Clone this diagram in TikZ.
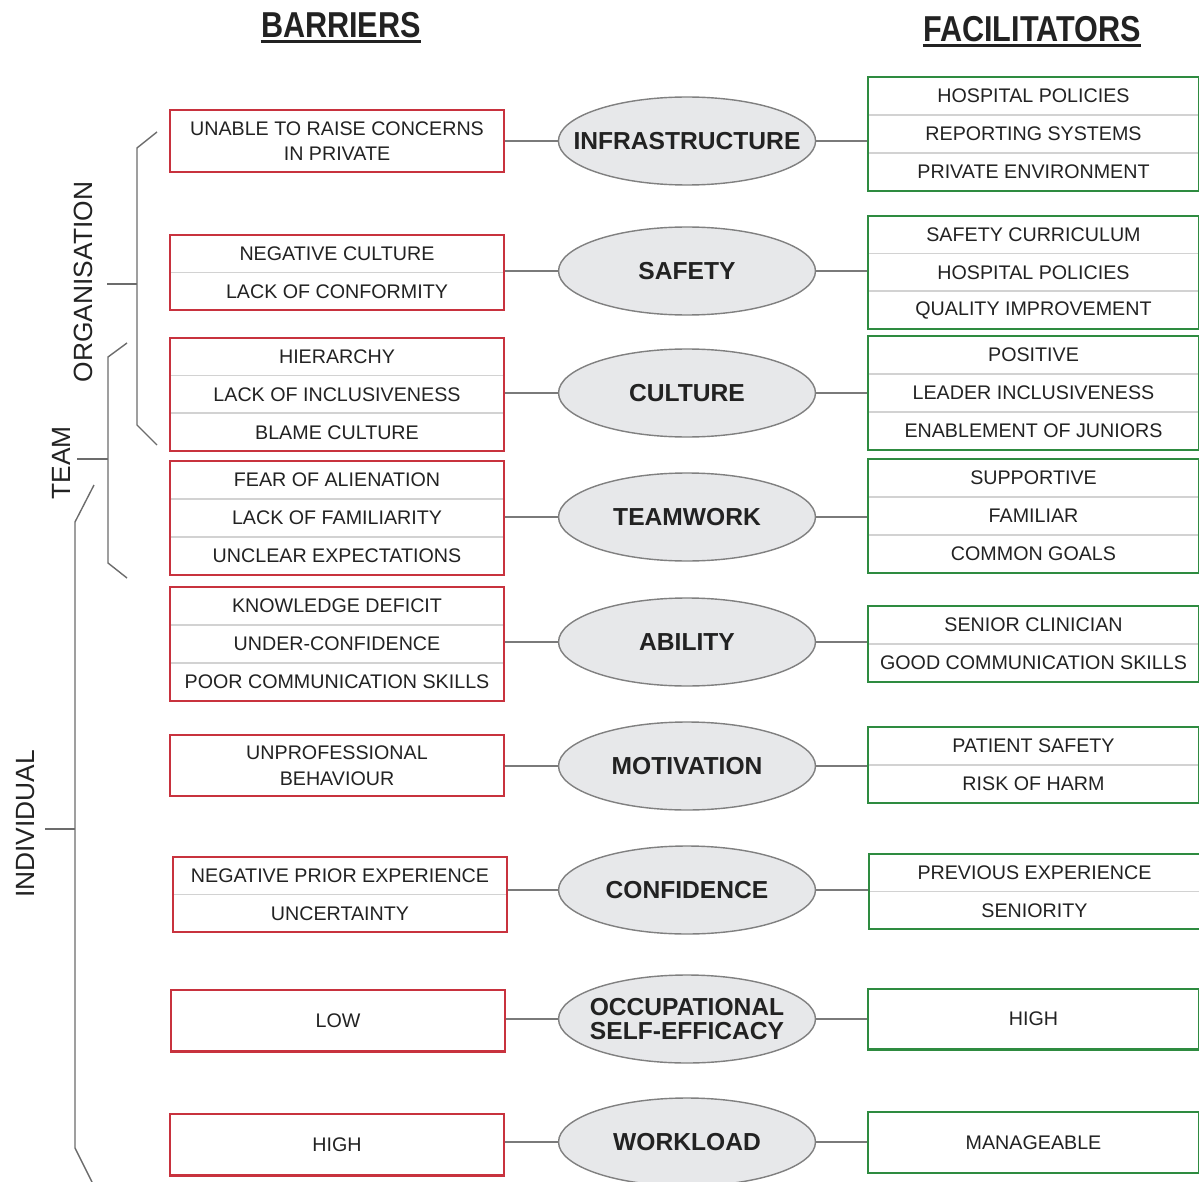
\documentclass[tikz,border=0pt]{standalone}
\usepackage{fontspec}
\setmainfont{Liberation Sans}
\newfontfamily\headfont[FakeStretch=0.85]{Liberation Sans Bold}
\usetikzlibrary{positioning,fit,shapes.geometric}
\definecolor{barred}{HTML}{C8323E}
\definecolor{facgreen}{HTML}{2E8B40}
\definecolor{rowline}{HTML}{D2D2D2}
\definecolor{ovalfill}{HTML}{E7E8EA}
\definecolor{linkgray}{HTML}{7A7A7A}
\definecolor{inktext}{HTML}{222222}
\tikzset{
  brow/.style={draw=rowline, line width=0.5pt, minimum width=6.68cm, minimum height=0.74cm,
    inner sep=0pt, align=center, text=inktext, font=\fontsize{11.2}{14.5}\selectfont},
  frow/.style={brow, minimum width=6.62cm},
  barrier/.style={draw=barred, line width=1.2pt, inner sep=0pt},
  facil/.style={draw=facgreen, line width=1.2pt, inner sep=0pt},
  factor/.style={ellipse, draw=gray, fill=ovalfill, line width=0.8pt, minimum width=5.14cm,
    minimum height=1.76cm, inner xsep=-0.45cm, inner ysep=0pt, align=center, text=inktext,
    font=\fontsize{14}{13.8}\selectfont\bfseries},
  link/.style={draw=linkgray, line width=0.9pt},
  bracket/.style={draw=gray!85!black, line width=0.8pt},
  level/.style={rotate=90, inner sep=0pt, text=inktext, font=\fontsize{15}{18}\selectfont},
  heading/.style={inner sep=0pt, text=inktext, font=\headfont\fontsize{20.5}{24}\selectfont}
}
\begin{document}
\begin{tikzpicture}[x=0.02cm, y=-0.02cm]
    \useasboundingbox (0,0) rectangle (1199,1182);
    % headings
    \node[heading] (hbar) at (341,25) {BARRIERS};
    \node[heading] (hfac) at (1032,29) {FACILITATORS};
    \draw[line width=1.8pt, inktext] ([yshift=-2.5pt]hbar.base west) -- ([yshift=-2.5pt]hbar.base east);
    \draw[line width=1.8pt, inktext] ([yshift=-2.5pt]hfac.base west) -- ([yshift=-2.5pt]hfac.base east);
    % factors
    \node[factor] (f1) at (687,141) {INFRASTRUCTURE};
    \node[factor] (f2) at (687,271) {SAFETY};
    \node[factor] (f3) at (687,393) {CULTURE};
    \node[factor] (f4) at (687,517) {TEAMWORK};
    \node[factor] (f5) at (687,642) {ABILITY};
    \node[factor] (f6) at (687,766) {MOTIVATION};
    \node[factor] (f7) at (687,890) {CONFIDENCE};
    \node[factor] (f8) at (687,1019) {OCCUPATIONAL\\SELF-EFFICACY};
    \node[factor] (f9) at (687,1142) {WORKLOAD};
    % barriers
    \node[brow, minimum height=1.22cm] (b11) at (337,141) {UNABLE TO RAISE CONCERNS\\IN PRIVATE};
    \node[barrier, fit=(b11)] (b1) {};
    \node[brow] (b21) at (337,253.5) {NEGATIVE CULTURE};
    \node[brow, below=0pt of b21] (b22) {LACK OF CONFORMITY};
    \node[barrier, fit=(b21)(b22)] (b2) {};
    \node[brow] (b31) at (337,356.5) {HIERARCHY};
    \node[brow, below=0pt of b31] (b32) {LACK OF INCLUSIVENESS};
    \node[brow, below=0pt of b32] (b33) {BLAME CULTURE};
    \node[barrier, fit=(b31)(b33)] (b3) {};
    \node[brow] (b41) at (337,480) {FEAR OF ALIENATION};
    \node[brow, below=0pt of b41] (b42) {LACK OF FAMILIARITY};
    \node[brow, below=0pt of b42] (b43) {UNCLEAR EXPECTATIONS};
    \node[barrier, fit=(b41)(b43)] (b4) {};
    \node[brow] (b51) at (337,606) {KNOWLEDGE DEFICIT};
    \node[brow, below=0pt of b51] (b52) {UNDER-CONFIDENCE};
    \node[brow, below=0pt of b52] (b53) {POOR COMMUNICATION SKILLS};
    \node[barrier, fit=(b51)(b53)] (b5) {};
    \node[brow, minimum height=1.22cm] (b61) at (337,765.5) {UNPROFESSIONAL\\BEHAVIOUR};
    \node[barrier, fit=(b61)] (b6) {};
    \node[brow] (b71) at (340,875.5) {NEGATIVE PRIOR EXPERIENCE};
    \node[brow, below=0pt of b71] (b72) {UNCERTAINTY};
    \node[barrier, fit=(b71)(b72)] (b7) {};
    \node[brow, minimum height=1.22cm] (b81) at (338,1020.5) {LOW};
    \node[barrier, fit=(b81)] (b8) {};
    \node[brow, minimum height=1.22cm] (b91) at (337,1144.5) {HIGH};
    \node[barrier, fit=(b91)] (b9) {};
    % facilitators
    \node[frow] (g11) at (1033.5,96) {HOSPITAL POLICIES};
    \node[frow, below=0pt of g11] (g12) {REPORTING SYSTEMS};
    \node[frow, below=0pt of g12] (g13) {PRIVATE ENVIRONMENT};
    \node[facil, fit=(g11)(g13)] (g1) {};
    \node[frow] (g21) at (1033.5,234.5) {SAFETY CURRICULUM};
    \node[frow, below=0pt of g21] (g22) {HOSPITAL POLICIES};
    \node[frow, below=0pt of g22] (g23) {QUALITY IMPROVEMENT};
    \node[facil, fit=(g21)(g23)] (g2) {};
    \node[frow] (g31) at (1033.5,355) {POSITIVE};
    \node[frow, below=0pt of g31] (g32) {LEADER INCLUSIVENESS};
    \node[frow, below=0pt of g32] (g33) {ENABLEMENT OF JUNIORS};
    \node[facil, fit=(g31)(g33)] (g3) {};
    \node[frow] (g41) at (1033.5,478) {SUPPORTIVE};
    \node[frow, below=0pt of g41] (g42) {FAMILIAR};
    \node[frow, below=0pt of g42] (g43) {COMMON GOALS};
    \node[facil, fit=(g41)(g43)] (g4) {};
    \node[frow] (g51) at (1033.5,625) {SENIOR CLINICIAN};
    \node[frow, below=0pt of g51] (g52) {GOOD COMMUNICATION SKILLS};
    \node[facil, fit=(g51)(g52)] (g5) {};
    \node[frow] (g61) at (1033.5,746) {PATIENT SAFETY};
    \node[frow, below=0pt of g61] (g62) {RISK OF HARM};
    \node[facil, fit=(g61)(g62)] (g6) {};
    \node[frow] (g71) at (1034.5,872.5) {PREVIOUS EXPERIENCE};
    \node[frow, below=0pt of g71] (g72) {SENIORITY};
    \node[facil, fit=(g71)(g72)] (g7) {};
    \node[frow, minimum height=1.2cm] (g81) at (1033.5,1019) {HIGH};
    \node[facil, fit=(g81)] (g8) {};
    \node[frow, minimum height=1.2cm] (g91) at (1033.5,1142.5) {MANAGEABLE};
    \node[facil, fit=(g91)] (g9) {};
    % links
    \foreach \i in {1,...,9} {
        \draw[link] (f\i) -- (f\i -| b\i.east);
        \draw[link] (f\i) -- (f\i -| g\i.west);
    }
    % levels
    \node[level] (lorg) at (83,282) {ORGANISATION};
    \node[level] (lteam) at (61,463) {TEAM};
    \node[level] (lind) at (26,824) {INDIVIDUAL};
    \draw[bracket] (157,132) -- (137,148) -- (137,425) -- (157,445);
    \draw[bracket] (107,284) -- (137,284);
    \draw[bracket] (127,343) -- (108,357) -- (108,563) -- (127,578);
    \draw[bracket] (77,459) -- (108,459);
    \draw[bracket] (94,485) -- (75,522) -- (75,1148) -- (92,1182);
    \draw[bracket] (45,829) -- (75,829);
\end{tikzpicture}
\end{document}
